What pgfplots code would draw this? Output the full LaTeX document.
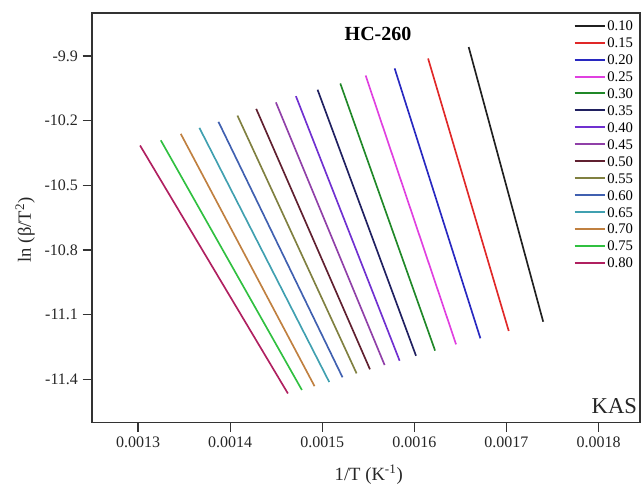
\documentclass[border=0pt]{standalone}
\usepackage{pgfplots}
\pgfplotsset{compat=1.18}
\usepackage{fontspec}
\setmainfont{Liberation Serif}
\definecolor{c10}{HTML}{202020}
\definecolor{c15}{HTML}{E02828}
\definecolor{c20}{HTML}{2828C0}
\definecolor{c25}{HTML}{E040E0}
\definecolor{c30}{HTML}{208828}
\definecolor{c35}{HTML}{202060}
\definecolor{c40}{HTML}{7030D0}
\definecolor{c45}{HTML}{9040A8}
\definecolor{c50}{HTML}{602030}
\definecolor{c55}{HTML}{808040}
\definecolor{c60}{HTML}{4060B0}
\definecolor{c65}{HTML}{40A0B0}
\definecolor{c70}{HTML}{C08040}
\definecolor{c75}{HTML}{30C040}
\definecolor{c80}{HTML}{B02060}
\begin{document}
\begin{tikzpicture}
\useasboundingbox (-69pt,-47.25pt) rectangle (413.25pt,316.75pt);
\begin{axis}[
  at={(0,0)}, anchor=south west,
  scale only axis, width=411pt, height=307pt,
  xmin=0.00125, xmax=0.001845, ymin=-11.6, ymax=-9.7,
  scaled x ticks=false, scaled y ticks=false,
  xtick={0.0013,0.0014,0.0015,0.0016,0.0017,0.0018},
  xticklabels={0.0013,0.0014,0.0015,0.0016,0.0017,0.0018},
  ytick={-9.9,-10.2,-10.5,-10.8,-11.1,-11.4},
  yticklabels={-9.9,-10.2,-10.5,-10.8,-11.1,-11.4},
  tick pos=left, tick align=outside, major tick length=7pt,
  tick style={line width=0.9pt, black!80},
  axis line style={line width=1pt, black!80},
  ticklabel style={font=\fontsize{12}{14}\selectfont, text=black!85},
  xlabel={1/T (K\textsuperscript{-1})},
  ylabel={ln (β/T\textsuperscript{2})},
  label style={font=\fontsize{14}{16}\selectfont, text=black!85},
  xlabel style={at={(axis description cs:0.505,-0.129)}, anchor=center},
  ylabel style={at={(axis description cs:-0.122,0.47)}, anchor=center},
  title={HC-260},
  title style={at={(axis description cs:0.522,0.929)}, anchor=center, font=\bfseries\fontsize{15}{18}\selectfont},
  legend style={draw=none, fill=none, at={(rel axis cs:1,1)}, anchor=north east, xshift=-4pt, yshift=-4.6pt,
    font=\fontsize{11}{12}\selectfont, row sep=3.2pt, inner sep=0pt,
    nodes={inner sep=1pt, text height=7.5pt, text depth=0pt}},
  legend image code/.code={\draw[#1, line width=1.5pt] (0cm,0cm) -- (0.8cm,0cm);},
  legend cell align=left,
  every axis plot/.append style={line width=1.25pt, mark=none},
]
\addplot[c10] coordinates {(0.0016590,-9.858) (0.0017399,-11.133)};
\addlegendentry{0.10}
\addplot[c15] coordinates {(0.0016149,-9.911) (0.0017025,-11.176)};
\addlegendentry{0.15}
\addplot[c20] coordinates {(0.0015786,-9.957) (0.0016717,-11.210)};
\addlegendentry{0.20}
\addplot[c25] coordinates {(0.0015471,-9.990) (0.0016453,-11.238)};
\addlegendentry{0.25}
\addplot[c30] coordinates {(0.0015196,-10.027) (0.0016225,-11.267)};
\addlegendentry{0.30}
\addplot[c35] coordinates {(0.0014949,-10.056) (0.0016018,-11.291)};
\addlegendentry{0.35}
\addplot[c40] coordinates {(0.0014714,-10.086) (0.0015840,-11.314)};
\addlegendentry{0.40}
\addplot[c45] coordinates {(0.0014497,-10.115) (0.0015677,-11.334)};
\addlegendentry{0.45}
\addplot[c50] coordinates {(0.0014283,-10.145) (0.0015518,-11.354)};
\addlegendentry{0.50}
\addplot[c55] coordinates {(0.0014079,-10.176) (0.0015373,-11.373)};
\addlegendentry{0.55}
\addplot[c60] coordinates {(0.0013873,-10.205) (0.0015220,-11.391)};
\addlegendentry{0.60}
\addplot[c65] coordinates {(0.0013666,-10.233) (0.0015076,-11.413)};
\addlegendentry{0.65}
\addplot[c70] coordinates {(0.0013464,-10.261) (0.0014916,-11.432)};
\addlegendentry{0.70}
\addplot[c75] coordinates {(0.0013247,-10.291) (0.0014779,-11.450)};
\addlegendentry{0.75}
\addplot[c80] coordinates {(0.0013022,-10.315) (0.0014627,-11.466)};
\addlegendentry{0.80}
\node[anchor=south east, font=\fontsize{17}{20}\selectfont, inner sep=2pt, yshift=4pt, text=black!85] at (rel axis cs:1,0) {KAS};
\end{axis}
\end{tikzpicture}
\end{document}
